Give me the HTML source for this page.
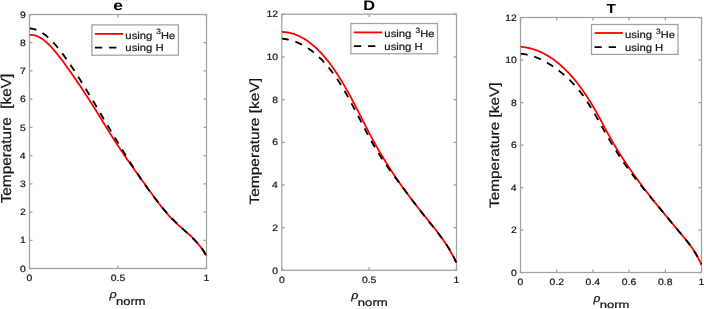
<!DOCTYPE html>
<html><head><meta charset="utf-8"><style>
html,body{margin:0;padding:0;background:#fff;}
svg{display:block;font-family:"Liberation Sans", sans-serif;}
</style></head><body>
<svg width="704" height="309" viewBox="0 0 704 309">
<rect width="704" height="309" fill="#fff"/>
<rect x="29.5" y="14.5" width="177.00" height="254.00" fill="none" stroke="#a0a0a0" stroke-width="1.25"/>
<path d="M29.5,268.50h3.0 M206.5,268.50h-3.0" stroke="#a0a0a0" stroke-width="1.25"/>
<path d="M29.5,240.28h3.0 M206.5,240.28h-3.0" stroke="#a0a0a0" stroke-width="1.25"/>
<path d="M29.5,212.06h3.0 M206.5,212.06h-3.0" stroke="#a0a0a0" stroke-width="1.25"/>
<path d="M29.5,183.83h3.0 M206.5,183.83h-3.0" stroke="#a0a0a0" stroke-width="1.25"/>
<path d="M29.5,155.61h3.0 M206.5,155.61h-3.0" stroke="#a0a0a0" stroke-width="1.25"/>
<path d="M29.5,127.39h3.0 M206.5,127.39h-3.0" stroke="#a0a0a0" stroke-width="1.25"/>
<path d="M29.5,99.17h3.0 M206.5,99.17h-3.0" stroke="#a0a0a0" stroke-width="1.25"/>
<path d="M29.5,70.94h3.0 M206.5,70.94h-3.0" stroke="#a0a0a0" stroke-width="1.25"/>
<path d="M29.5,42.72h3.0 M206.5,42.72h-3.0" stroke="#a0a0a0" stroke-width="1.25"/>
<path d="M29.5,14.50h3.0 M206.5,14.50h-3.0" stroke="#a0a0a0" stroke-width="1.25"/>
<path d="M29.50,268.5v-3.0 M29.50,14.5v3.0" stroke="#a0a0a0" stroke-width="1.25"/>
<path d="M118.00,268.5v-3.0 M118.00,14.5v3.0" stroke="#a0a0a0" stroke-width="1.25"/>
<path d="M206.50,268.5v-3.0 M206.50,14.5v3.0" stroke="#a0a0a0" stroke-width="1.25"/>
<path d="M29.80,34.97 L30.54,34.92 L31.28,34.91 L32.01,34.95 L32.75,35.02 L33.49,35.13 L34.23,35.27 L34.97,35.45 L35.70,35.67 L36.44,35.92 L37.18,36.20 L37.92,36.52 L38.66,36.87 L39.39,37.25 L40.13,37.66 L40.87,38.10 L41.61,38.57 L42.35,39.07 L43.09,39.60 L43.82,40.15 L44.56,40.73 L45.30,41.34 L46.04,41.97 L46.78,42.62 L47.51,43.30 L48.25,44.00 L48.99,44.72 L49.73,45.46 L50.47,46.23 L51.20,47.01 L51.94,47.81 L52.68,48.63 L53.42,49.46 L54.16,50.32 L54.89,51.19 L55.63,52.07 L56.37,52.97 L57.11,53.88 L57.85,54.81 L58.58,55.74 L59.32,56.69 L60.06,57.65 L60.80,58.62 L61.54,59.60 L62.28,60.58 L63.01,61.58 L63.75,62.58 L64.49,63.59 L65.23,64.60 L65.97,65.62 L66.70,66.64 L67.44,67.66 L68.18,68.69 L68.92,69.73 L69.66,70.76 L70.39,71.81 L71.13,72.85 L71.87,73.90 L72.61,74.96 L73.35,76.01 L74.08,77.08 L74.82,78.14 L75.56,79.21 L76.30,80.29 L77.04,81.37 L77.77,82.45 L78.51,83.54 L79.25,84.64 L79.99,85.73 L80.73,86.84 L81.47,87.94 L82.20,89.05 L82.94,90.17 L83.68,91.28 L84.42,92.41 L85.16,93.54 L85.89,94.67 L86.63,95.80 L87.37,96.94 L88.11,98.09 L88.85,99.24 L89.58,100.39 L90.32,101.55 L91.06,102.71 L91.80,103.88 L92.54,105.05 L93.27,106.22 L94.01,107.40 L94.75,108.58 L95.49,109.77 L96.23,110.96 L96.96,112.15 L97.70,113.34 L98.44,114.54 L99.18,115.74 L99.92,116.94 L100.66,118.14 L101.39,119.34 L102.13,120.54 L102.87,121.75 L103.61,122.95 L104.35,124.15 L105.08,125.35 L105.82,126.55 L106.56,127.74 L107.30,128.93 L108.04,130.12 L108.77,131.31 L109.51,132.49 L110.25,133.67 L110.99,134.85 L111.73,136.02 L112.46,137.18 L113.20,138.34 L113.94,139.50 L114.68,140.65 L115.42,141.79 L116.15,142.93 L116.89,144.06 L117.63,145.18 L118.37,146.31 L119.11,147.42 L119.85,148.53 L120.58,149.64 L121.32,150.74 L122.06,151.84 L122.80,152.93 L123.54,154.02 L124.27,155.11 L125.01,156.19 L125.75,157.26 L126.49,158.34 L127.23,159.41 L127.96,160.47 L128.70,161.54 L129.44,162.60 L130.18,163.65 L130.92,164.71 L131.65,165.76 L132.39,166.81 L133.13,167.85 L133.87,168.90 L134.61,169.94 L135.34,170.98 L136.08,172.02 L136.82,173.05 L137.56,174.09 L138.30,175.12 L139.04,176.15 L139.77,177.18 L140.51,178.21 L141.25,179.24 L141.99,180.26 L142.73,181.29 L143.46,182.31 L144.20,183.34 L144.94,184.36 L145.68,185.39 L146.42,186.41 L147.15,187.44 L147.89,188.46 L148.63,189.49 L149.37,190.51 L150.11,191.53 L150.84,192.55 L151.58,193.56 L152.32,194.58 L153.06,195.59 L153.80,196.59 L154.53,197.59 L155.27,198.59 L156.01,199.58 L156.75,200.57 L157.49,201.55 L158.23,202.52 L158.96,203.49 L159.70,204.45 L160.44,205.40 L161.18,206.34 L161.92,207.28 L162.65,208.20 L163.39,209.12 L164.13,210.02 L164.87,210.92 L165.61,211.80 L166.34,212.67 L167.08,213.53 L167.82,214.38 L168.56,215.22 L169.30,216.04 L170.03,216.85 L170.77,217.64 L171.51,218.42 L172.25,219.19 L172.99,219.94 L173.72,220.67 L174.46,221.40 L175.20,222.10 L175.94,222.80 L176.68,223.48 L177.42,224.16 L178.15,224.82 L178.89,225.48 L179.63,226.14 L180.37,226.78 L181.11,227.43 L181.84,228.07 L182.58,228.71 L183.32,229.35 L184.06,229.99 L184.80,230.63 L185.53,231.28 L186.27,231.93 L187.01,232.58 L187.75,233.24 L188.49,233.91 L189.22,234.59 L189.96,235.28 L190.70,235.98 L191.44,236.69 L192.18,237.41 L192.91,238.15 L193.65,238.91 L194.39,239.68 L195.13,240.47 L195.87,241.28 L196.61,242.11 L197.34,242.96 L198.08,243.84 L198.82,244.74 L199.56,245.66 L200.30,246.61 L201.03,247.60 L201.77,248.61 L202.51,249.66 L203.25,250.74 L203.99,251.85 L204.72,253.00 L205.46,254.19 L206.20,255.42" fill="none" stroke="#ff0000" stroke-width="1.8"/>
<path d="M29.80,28.46 L30.54,28.49 L31.28,28.56 L32.01,28.66 L32.75,28.78 L33.49,28.94 L34.23,29.12 L34.97,29.33 L35.70,29.57 L36.44,29.84 L37.18,30.13 L37.92,30.46 L38.66,30.80 L39.39,31.18 L40.13,31.58 L40.87,32.00 L41.61,32.45 L42.35,32.92 L43.09,33.42 L43.82,33.94 L44.56,34.48 L45.30,35.05 L46.04,35.64 L46.78,36.25 L47.51,36.88 L48.25,37.53 L48.99,38.20 L49.73,38.90 L50.47,39.61 L51.20,40.34 L51.94,41.09 L52.68,41.86 L53.42,42.65 L54.16,43.45 L54.89,44.27 L55.63,45.11 L56.37,45.97 L57.11,46.84 L57.85,47.73 L58.58,48.63 L59.32,49.55 L60.06,50.48 L60.80,51.42 L61.54,52.38 L62.28,53.36 L63.01,54.34 L63.75,55.34 L64.49,56.35 L65.23,57.37 L65.97,58.40 L66.70,59.44 L67.44,60.49 L68.18,61.56 L68.92,62.63 L69.66,63.71 L70.39,64.80 L71.13,65.90 L71.87,67.00 L72.61,68.12 L73.35,69.24 L74.08,70.36 L74.82,71.50 L75.56,72.63 L76.30,73.78 L77.04,74.93 L77.77,76.08 L78.51,77.24 L79.25,78.41 L79.99,79.58 L80.73,80.75 L81.47,81.93 L82.20,83.11 L82.94,84.30 L83.68,85.49 L84.42,86.69 L85.16,87.89 L85.89,89.09 L86.63,90.30 L87.37,91.51 L88.11,92.72 L88.85,93.94 L89.58,95.16 L90.32,96.38 L91.06,97.61 L91.80,98.83 L92.54,100.06 L93.27,101.29 L94.01,102.53 L94.75,103.76 L95.49,105.00 L96.23,106.24 L96.96,107.48 L97.70,108.72 L98.44,109.96 L99.18,111.20 L99.92,112.45 L100.66,113.69 L101.39,114.94 L102.13,116.18 L102.87,117.43 L103.61,118.68 L104.35,119.92 L105.08,121.17 L105.82,122.41 L106.56,123.66 L107.30,124.90 L108.04,126.14 L108.77,127.38 L109.51,128.63 L110.25,129.86 L110.99,131.10 L111.73,132.34 L112.46,133.57 L113.20,134.81 L113.94,136.04 L114.68,137.27 L115.42,138.49 L116.15,139.72 L116.89,140.94 L117.63,142.15 L118.37,143.37 L119.11,144.58 L119.85,145.79 L120.58,147.00 L121.32,148.21 L122.06,149.41 L122.80,150.60 L123.54,151.80 L124.27,152.99 L125.01,154.18 L125.75,155.36 L126.49,156.54 L127.23,157.72 L127.96,158.89 L128.70,160.06 L129.44,161.22 L130.18,162.38 L130.92,163.54 L131.65,164.69 L132.39,165.84 L133.13,166.98 L133.87,168.12 L134.61,169.25 L135.34,170.38 L136.08,171.50 L136.82,172.62 L137.56,173.73 L138.30,174.84 L139.04,175.95 L139.77,177.04 L140.51,178.14 L141.25,179.22 L141.99,180.30 L142.73,181.38 L143.46,182.45 L144.20,183.51 L144.94,184.57 L145.68,185.62 L146.42,186.67 L147.15,187.71 L147.89,188.74 L148.63,189.77 L149.37,190.79 L150.11,191.80 L150.84,192.81 L151.58,193.81 L152.32,194.80 L153.06,195.79 L153.80,196.76 L154.53,197.74 L155.27,198.70 L156.01,199.66 L156.75,200.61 L157.49,201.55 L158.23,202.48 L158.96,203.41 L159.70,204.33 L160.44,205.24 L161.18,206.15 L161.92,207.04 L162.65,207.93 L163.39,208.81 L164.13,209.68 L164.87,210.54 L165.61,211.39 L166.34,212.24 L167.08,213.07 L167.82,213.90 L168.56,214.72 L169.30,215.53 L170.03,216.33 L170.77,217.12 L171.51,217.90 L172.25,218.67 L172.99,219.44 L173.72,220.19 L174.46,220.94 L175.20,221.67 L175.94,222.40 L176.68,223.13 L177.42,223.84 L178.15,224.55 L178.89,225.26 L179.63,225.96 L180.37,226.65 L181.11,227.34 L181.84,228.03 L182.58,228.72 L183.32,229.40 L184.06,230.09 L184.80,230.77 L185.53,231.45 L186.27,232.14 L187.01,232.82 L187.75,233.51 L188.49,234.20 L189.22,234.89 L189.96,235.58 L190.70,236.28 L191.44,236.98 L192.18,237.69 L192.91,238.41 L193.65,239.13 L194.39,239.85 L195.13,240.59 L195.87,241.33 L196.61,242.08 L197.34,242.85 L198.08,243.63 L198.82,244.43 L199.56,245.28 L200.30,246.16 L201.03,247.10 L201.77,248.10 L202.51,249.17 L203.25,250.32 L203.99,251.55 L204.72,252.87 L205.46,254.29 L206.20,255.83" fill="none" stroke="#000" stroke-width="1.8" stroke-dasharray="7.287 6.888" stroke-dashoffset="0.5"/>
<rect x="91.9" y="24.9" width="86.50" height="30.30" fill="#fff" stroke="#a0a0a0" stroke-width="1.25"/>
<path d="M94.90,33.90H123.20" stroke="#ff0000" stroke-width="1.8"/>
<path d="M94.90,47.65H123.20" stroke="#000" stroke-width="1.8" stroke-dasharray="7.3 6.9"/>
<rect x="281.8" y="14.2" width="174.70" height="256.10" fill="none" stroke="#a0a0a0" stroke-width="1.25"/>
<path d="M281.8,270.30h3.0 M456.5,270.30h-3.0" stroke="#a0a0a0" stroke-width="1.25"/>
<path d="M281.8,227.62h3.0 M456.5,227.62h-3.0" stroke="#a0a0a0" stroke-width="1.25"/>
<path d="M281.8,184.93h3.0 M456.5,184.93h-3.0" stroke="#a0a0a0" stroke-width="1.25"/>
<path d="M281.8,142.25h3.0 M456.5,142.25h-3.0" stroke="#a0a0a0" stroke-width="1.25"/>
<path d="M281.8,99.57h3.0 M456.5,99.57h-3.0" stroke="#a0a0a0" stroke-width="1.25"/>
<path d="M281.8,56.88h3.0 M456.5,56.88h-3.0" stroke="#a0a0a0" stroke-width="1.25"/>
<path d="M281.8,14.20h3.0 M456.5,14.20h-3.0" stroke="#a0a0a0" stroke-width="1.25"/>
<path d="M281.80,270.3v-3.0 M281.80,14.2v3.0" stroke="#a0a0a0" stroke-width="1.25"/>
<path d="M369.15,270.3v-3.0 M369.15,14.2v3.0" stroke="#a0a0a0" stroke-width="1.25"/>
<path d="M456.50,270.3v-3.0 M456.50,14.2v3.0" stroke="#a0a0a0" stroke-width="1.25"/>
<path d="M282.10,31.92 L282.83,31.94 L283.56,31.98 L284.29,32.03 L285.01,32.10 L285.74,32.18 L286.47,32.27 L287.20,32.38 L287.93,32.50 L288.66,32.64 L289.38,32.79 L290.11,32.95 L290.84,33.12 L291.57,33.31 L292.30,33.52 L293.03,33.74 L293.76,33.97 L294.48,34.21 L295.21,34.47 L295.94,34.75 L296.67,35.04 L297.40,35.34 L298.13,35.65 L298.85,35.99 L299.58,36.33 L300.31,36.69 L301.04,37.06 L301.77,37.45 L302.50,37.85 L303.23,38.27 L303.95,38.70 L304.68,39.14 L305.41,39.60 L306.14,40.07 L306.87,40.56 L307.60,41.06 L308.32,41.58 L309.05,42.11 L309.78,42.66 L310.51,43.22 L311.24,43.79 L311.97,44.38 L312.69,44.99 L313.42,45.61 L314.15,46.24 L314.88,46.89 L315.61,47.55 L316.34,48.23 L317.07,48.93 L317.79,49.64 L318.52,50.36 L319.25,51.10 L319.98,51.85 L320.71,52.62 L321.44,53.40 L322.16,54.20 L322.89,55.01 L323.62,55.84 L324.35,56.68 L325.08,57.54 L325.81,58.42 L326.54,59.31 L327.26,60.21 L327.99,61.13 L328.72,62.06 L329.45,63.01 L330.18,63.98 L330.91,64.96 L331.63,65.96 L332.36,66.97 L333.09,67.99 L333.82,69.04 L334.55,70.09 L335.28,71.16 L336.01,72.25 L336.73,73.34 L337.46,74.46 L338.19,75.58 L338.92,76.73 L339.65,77.88 L340.38,79.05 L341.10,80.23 L341.83,81.43 L342.56,82.64 L343.29,83.86 L344.02,85.09 L344.75,86.34 L345.48,87.60 L346.20,88.87 L346.93,90.16 L347.66,91.46 L348.39,92.77 L349.12,94.09 L349.85,95.43 L350.57,96.77 L351.30,98.13 L352.03,99.50 L352.76,100.88 L353.49,102.27 L354.22,103.67 L354.95,105.08 L355.67,106.49 L356.40,107.91 L357.13,109.34 L357.86,110.77 L358.59,112.20 L359.32,113.64 L360.04,115.08 L360.77,116.52 L361.50,117.96 L362.23,119.40 L362.96,120.84 L363.69,122.28 L364.42,123.71 L365.14,125.14 L365.87,126.56 L366.60,127.98 L367.33,129.39 L368.06,130.80 L368.79,132.19 L369.51,133.58 L370.24,134.95 L370.97,136.32 L371.70,137.67 L372.43,139.01 L373.16,140.35 L373.88,141.67 L374.61,142.99 L375.34,144.29 L376.07,145.59 L376.80,146.87 L377.53,148.15 L378.26,149.42 L378.98,150.68 L379.71,151.92 L380.44,153.16 L381.17,154.40 L381.90,155.62 L382.63,156.83 L383.35,158.04 L384.08,159.23 L384.81,160.42 L385.54,161.60 L386.27,162.77 L387.00,163.94 L387.73,165.09 L388.45,166.24 L389.18,167.38 L389.91,168.52 L390.64,169.64 L391.37,170.76 L392.10,171.87 L392.82,172.98 L393.55,174.08 L394.28,175.17 L395.01,176.25 L395.74,177.33 L396.47,178.40 L397.20,179.46 L397.92,180.52 L398.65,181.57 L399.38,182.62 L400.11,183.66 L400.84,184.69 L401.57,185.72 L402.29,186.75 L403.02,187.76 L403.75,188.77 L404.48,189.78 L405.21,190.78 L405.94,191.78 L406.67,192.77 L407.39,193.76 L408.12,194.74 L408.85,195.72 L409.58,196.69 L410.31,197.66 L411.04,198.62 L411.76,199.58 L412.49,200.54 L413.22,201.49 L413.95,202.43 L414.68,203.38 L415.41,204.32 L416.14,205.26 L416.86,206.19 L417.59,207.12 L418.32,208.05 L419.05,208.97 L419.78,209.89 L420.51,210.81 L421.23,211.72 L421.96,212.64 L422.69,213.55 L423.42,214.45 L424.15,215.36 L424.88,216.26 L425.61,217.16 L426.33,218.06 L427.06,218.96 L427.79,219.86 L428.52,220.76 L429.25,221.66 L429.98,222.56 L430.70,223.46 L431.43,224.36 L432.16,225.27 L432.89,226.19 L433.62,227.11 L434.35,228.03 L435.07,228.96 L435.80,229.90 L436.53,230.84 L437.26,231.80 L437.99,232.76 L438.72,233.73 L439.45,234.72 L440.17,235.71 L440.90,236.72 L441.63,237.73 L442.36,238.77 L443.09,239.81 L443.82,240.87 L444.54,241.95 L445.27,243.04 L446.00,244.15 L446.73,245.27 L447.46,246.41 L448.19,247.58 L448.92,248.76 L449.64,249.97 L450.37,251.20 L451.10,252.45 L451.83,253.73 L452.56,255.04 L453.29,256.37 L454.01,257.74 L454.74,259.14 L455.47,260.56 L456.20,262.02" fill="none" stroke="#ff0000" stroke-width="1.8"/>
<path d="M282.10,38.61 L282.83,38.69 L283.56,38.78 L284.29,38.88 L285.01,38.99 L285.74,39.11 L286.47,39.24 L287.20,39.38 L287.93,39.53 L288.66,39.70 L289.38,39.87 L290.11,40.05 L290.84,40.25 L291.57,40.45 L292.30,40.67 L293.03,40.90 L293.76,41.14 L294.48,41.39 L295.21,41.65 L295.94,41.92 L296.67,42.21 L297.40,42.51 L298.13,42.82 L298.85,43.14 L299.58,43.47 L300.31,43.81 L301.04,44.17 L301.77,44.54 L302.50,44.92 L303.23,45.32 L303.95,45.73 L304.68,46.14 L305.41,46.58 L306.14,47.02 L306.87,47.48 L307.60,47.95 L308.32,48.43 L309.05,48.93 L309.78,49.44 L310.51,49.97 L311.24,50.50 L311.97,51.05 L312.69,51.62 L313.42,52.20 L314.15,52.79 L314.88,53.39 L315.61,54.01 L316.34,54.65 L317.07,55.29 L317.79,55.96 L318.52,56.63 L319.25,57.32 L319.98,58.03 L320.71,58.75 L321.44,59.48 L322.16,60.23 L322.89,61.00 L323.62,61.78 L324.35,62.57 L325.08,63.38 L325.81,64.20 L326.54,65.04 L327.26,65.90 L327.99,66.77 L328.72,67.65 L329.45,68.55 L330.18,69.47 L330.91,70.40 L331.63,71.35 L332.36,72.32 L333.09,73.30 L333.82,74.30 L334.55,75.31 L335.28,76.34 L336.01,77.39 L336.73,78.45 L337.46,79.53 L338.19,80.62 L338.92,81.74 L339.65,82.87 L340.38,84.01 L341.10,85.18 L341.83,86.36 L342.56,87.56 L343.29,88.77 L344.02,90.00 L344.75,91.24 L345.48,92.50 L346.20,93.77 L346.93,95.06 L347.66,96.35 L348.39,97.66 L349.12,98.98 L349.85,100.31 L350.57,101.65 L351.30,103.00 L352.03,104.35 L352.76,105.72 L353.49,107.09 L354.22,108.47 L354.95,109.86 L355.67,111.25 L356.40,112.64 L357.13,114.04 L357.86,115.45 L358.59,116.85 L359.32,118.26 L360.04,119.67 L360.77,121.08 L361.50,122.49 L362.23,123.90 L362.96,125.31 L363.69,126.71 L364.42,128.11 L365.14,129.51 L365.87,130.90 L366.60,132.28 L367.33,133.65 L368.06,135.02 L368.79,136.38 L369.51,137.73 L370.24,139.07 L370.97,140.39 L371.70,141.71 L372.43,143.01 L373.16,144.29 L373.88,145.56 L374.61,146.82 L375.34,148.06 L376.07,149.28 L376.80,150.49 L377.53,151.69 L378.26,152.87 L378.98,154.04 L379.71,155.19 L380.44,156.33 L381.17,157.46 L381.90,158.58 L382.63,159.68 L383.35,160.78 L384.08,161.86 L384.81,162.94 L385.54,164.00 L386.27,165.06 L387.00,166.11 L387.73,167.15 L388.45,168.18 L389.18,169.20 L389.91,170.22 L390.64,171.23 L391.37,172.24 L392.10,173.24 L392.82,174.23 L393.55,175.22 L394.28,176.21 L395.01,177.19 L395.74,178.17 L396.47,179.14 L397.20,180.12 L397.92,181.09 L398.65,182.06 L399.38,183.03 L400.11,183.99 L400.84,184.96 L401.57,185.93 L402.29,186.90 L403.02,187.87 L403.75,188.84 L404.48,189.81 L405.21,190.78 L405.94,191.75 L406.67,192.72 L407.39,193.69 L408.12,194.66 L408.85,195.63 L409.58,196.60 L410.31,197.57 L411.04,198.54 L411.76,199.51 L412.49,200.47 L413.22,201.44 L413.95,202.40 L414.68,203.36 L415.41,204.32 L416.14,205.28 L416.86,206.24 L417.59,207.19 L418.32,208.14 L419.05,209.09 L419.78,210.04 L420.51,210.99 L421.23,211.93 L421.96,212.87 L422.69,213.81 L423.42,214.74 L424.15,215.67 L424.88,216.60 L425.61,217.52 L426.33,218.44 L427.06,219.36 L427.79,220.27 L428.52,221.18 L429.25,222.08 L429.98,222.99 L430.70,223.89 L431.43,224.79 L432.16,225.69 L432.89,226.59 L433.62,227.50 L434.35,228.40 L435.07,229.31 L435.80,230.23 L436.53,231.15 L437.26,232.07 L437.99,233.00 L438.72,233.94 L439.45,234.89 L440.17,235.84 L440.90,236.81 L441.63,237.78 L442.36,238.77 L443.09,239.76 L443.82,240.78 L444.54,241.80 L445.27,242.84 L446.00,243.89 L446.73,244.97 L447.46,246.06 L448.19,247.18 L448.92,248.33 L449.64,249.52 L450.37,250.76 L451.10,252.04 L451.83,253.37 L452.56,254.76 L453.29,256.22 L454.01,257.74 L454.74,259.34 L455.47,261.02 L456.20,262.78" fill="none" stroke="#000" stroke-width="1.8" stroke-dasharray="7.290 6.890" stroke-dashoffset="0.5"/>
<rect x="350.9" y="23.5" width="86.60" height="30.30" fill="#fff" stroke="#a0a0a0" stroke-width="1.25"/>
<path d="M353.90,32.40H382.20" stroke="#ff0000" stroke-width="1.8"/>
<path d="M353.90,46.20H382.20" stroke="#000" stroke-width="1.8" stroke-dasharray="7.3 6.9"/>
<rect x="520.5" y="17.5" width="181.00" height="255.00" fill="none" stroke="#a0a0a0" stroke-width="1.25"/>
<path d="M520.5,272.50h3.0 M701.5,272.50h-3.0" stroke="#a0a0a0" stroke-width="1.25"/>
<path d="M520.5,230.00h3.0 M701.5,230.00h-3.0" stroke="#a0a0a0" stroke-width="1.25"/>
<path d="M520.5,187.50h3.0 M701.5,187.50h-3.0" stroke="#a0a0a0" stroke-width="1.25"/>
<path d="M520.5,145.00h3.0 M701.5,145.00h-3.0" stroke="#a0a0a0" stroke-width="1.25"/>
<path d="M520.5,102.50h3.0 M701.5,102.50h-3.0" stroke="#a0a0a0" stroke-width="1.25"/>
<path d="M520.5,60.00h3.0 M701.5,60.00h-3.0" stroke="#a0a0a0" stroke-width="1.25"/>
<path d="M520.5,17.50h3.0 M701.5,17.50h-3.0" stroke="#a0a0a0" stroke-width="1.25"/>
<path d="M520.50,272.5v-3.0 M520.50,17.5v3.0" stroke="#a0a0a0" stroke-width="1.25"/>
<path d="M556.70,272.5v-3.0 M556.70,17.5v3.0" stroke="#a0a0a0" stroke-width="1.25"/>
<path d="M592.90,272.5v-3.0 M592.90,17.5v3.0" stroke="#a0a0a0" stroke-width="1.25"/>
<path d="M629.10,272.5v-3.0 M629.10,17.5v3.0" stroke="#a0a0a0" stroke-width="1.25"/>
<path d="M665.30,272.5v-3.0 M665.30,17.5v3.0" stroke="#a0a0a0" stroke-width="1.25"/>
<path d="M701.50,272.5v-3.0 M701.50,17.5v3.0" stroke="#a0a0a0" stroke-width="1.25"/>
<path d="M520.80,46.77 L521.55,46.84 L522.31,46.93 L523.06,47.02 L523.82,47.12 L524.57,47.23 L525.33,47.35 L526.08,47.48 L526.84,47.62 L527.59,47.77 L528.35,47.93 L529.10,48.10 L529.86,48.28 L530.61,48.48 L531.37,48.68 L532.12,48.89 L532.88,49.11 L533.63,49.35 L534.39,49.59 L535.14,49.85 L535.90,50.11 L536.65,50.39 L537.41,50.68 L538.16,50.98 L538.92,51.28 L539.67,51.61 L540.43,51.94 L541.18,52.28 L541.93,52.63 L542.69,53.00 L543.44,53.38 L544.20,53.77 L544.95,54.17 L545.71,54.58 L546.46,55.00 L547.22,55.44 L547.97,55.88 L548.73,56.34 L549.48,56.81 L550.24,57.30 L550.99,57.79 L551.75,58.30 L552.50,58.82 L553.26,59.35 L554.01,59.89 L554.77,60.45 L555.52,61.02 L556.28,61.60 L557.03,62.20 L557.79,62.80 L558.54,63.42 L559.30,64.05 L560.05,64.70 L560.81,65.36 L561.56,66.03 L562.31,66.71 L563.07,67.41 L563.82,68.12 L564.58,68.84 L565.33,69.58 L566.09,70.33 L566.84,71.09 L567.60,71.87 L568.35,72.66 L569.11,73.47 L569.86,74.29 L570.62,75.12 L571.37,75.96 L572.13,76.82 L572.88,77.70 L573.64,78.58 L574.39,79.49 L575.15,80.40 L575.90,81.33 L576.66,82.28 L577.41,83.24 L578.17,84.21 L578.92,85.20 L579.68,86.20 L580.43,87.21 L581.18,88.25 L581.94,89.29 L582.69,90.35 L583.45,91.43 L584.20,92.52 L584.96,93.62 L585.71,94.74 L586.47,95.87 L587.22,97.02 L587.98,98.19 L588.73,99.37 L589.49,100.56 L590.24,101.77 L591.00,103.00 L591.75,104.24 L592.51,105.49 L593.26,106.76 L594.02,108.05 L594.77,109.35 L595.53,110.67 L596.28,112.01 L597.04,113.35 L597.79,114.72 L598.55,116.10 L599.30,117.49 L600.06,118.88 L600.81,120.29 L601.56,121.70 L602.32,123.12 L603.07,124.54 L603.83,125.96 L604.58,127.38 L605.34,128.79 L606.09,130.20 L606.85,131.60 L607.60,133.00 L608.36,134.38 L609.11,135.75 L609.87,137.11 L610.62,138.45 L611.38,139.78 L612.13,141.09 L612.89,142.39 L613.64,143.68 L614.40,144.95 L615.15,146.21 L615.91,147.46 L616.66,148.70 L617.42,149.93 L618.17,151.15 L618.93,152.36 L619.68,153.56 L620.44,154.75 L621.19,155.93 L621.94,157.11 L622.70,158.27 L623.45,159.43 L624.21,160.58 L624.96,161.73 L625.72,162.86 L626.47,163.99 L627.23,165.11 L627.98,166.23 L628.74,167.33 L629.49,168.44 L630.25,169.53 L631.00,170.62 L631.76,171.70 L632.51,172.77 L633.27,173.84 L634.02,174.90 L634.78,175.96 L635.53,177.01 L636.29,178.05 L637.04,179.09 L637.80,180.13 L638.55,181.15 L639.31,182.18 L640.06,183.19 L640.82,184.21 L641.57,185.21 L642.32,186.22 L643.08,187.21 L643.83,188.21 L644.59,189.20 L645.34,190.18 L646.10,191.16 L646.85,192.13 L647.61,193.11 L648.36,194.07 L649.12,195.04 L649.87,196.00 L650.63,196.95 L651.38,197.91 L652.14,198.86 L652.89,199.80 L653.65,200.75 L654.40,201.69 L655.16,202.62 L655.91,203.56 L656.67,204.49 L657.42,205.42 L658.18,206.34 L658.93,207.27 L659.69,208.19 L660.44,209.11 L661.19,210.03 L661.95,210.94 L662.70,211.86 L663.46,212.77 L664.21,213.68 L664.97,214.59 L665.72,215.50 L666.48,216.41 L667.23,217.32 L667.99,218.22 L668.74,219.12 L669.50,220.03 L670.25,220.93 L671.01,221.83 L671.76,222.74 L672.52,223.64 L673.27,224.54 L674.03,225.44 L674.78,226.34 L675.54,227.25 L676.29,228.15 L677.05,229.05 L677.80,229.96 L678.56,230.86 L679.31,231.77 L680.07,232.67 L680.82,233.58 L681.57,234.49 L682.33,235.41 L683.08,236.32 L683.84,237.24 L684.59,238.16 L685.35,239.09 L686.10,240.03 L686.86,240.98 L687.61,241.94 L688.37,242.91 L689.12,243.90 L689.88,244.90 L690.63,245.93 L691.39,246.99 L692.14,248.07 L692.90,249.18 L693.65,250.33 L694.41,251.51 L695.16,252.73 L695.92,254.00 L696.67,255.31 L697.43,256.68 L698.18,258.09 L698.94,259.57 L699.69,261.10 L700.45,262.69 L701.20,264.35" fill="none" stroke="#ff0000" stroke-width="1.8"/>
<path d="M520.80,53.75 L521.55,53.81 L522.31,53.89 L523.06,53.97 L523.82,54.07 L524.57,54.19 L525.33,54.31 L526.08,54.44 L526.84,54.59 L527.59,54.75 L528.35,54.92 L529.10,55.11 L529.86,55.30 L530.61,55.51 L531.37,55.72 L532.12,55.95 L532.88,56.19 L533.63,56.44 L534.39,56.71 L535.14,56.98 L535.90,57.26 L536.65,57.56 L537.41,57.87 L538.16,58.18 L538.92,58.51 L539.67,58.85 L540.43,59.19 L541.18,59.55 L541.93,59.92 L542.69,60.30 L543.44,60.69 L544.20,61.09 L544.95,61.50 L545.71,61.91 L546.46,62.34 L547.22,62.78 L547.97,63.23 L548.73,63.68 L549.48,64.15 L550.24,64.62 L550.99,65.11 L551.75,65.60 L552.50,66.10 L553.26,66.61 L554.01,67.13 L554.77,67.66 L555.52,68.20 L556.28,68.75 L557.03,69.30 L557.79,69.86 L558.54,70.43 L559.30,71.01 L560.05,71.60 L560.81,72.20 L561.56,72.80 L562.31,73.42 L563.07,74.04 L563.82,74.68 L564.58,75.33 L565.33,75.99 L566.09,76.66 L566.84,77.34 L567.60,78.03 L568.35,78.74 L569.11,79.46 L569.86,80.19 L570.62,80.94 L571.37,81.70 L572.13,82.48 L572.88,83.27 L573.64,84.08 L574.39,84.90 L575.15,85.74 L575.90,86.60 L576.66,87.47 L577.41,88.37 L578.17,89.28 L578.92,90.21 L579.68,91.15 L580.43,92.12 L581.18,93.11 L581.94,94.11 L582.69,95.14 L583.45,96.19 L584.20,97.25 L584.96,98.34 L585.71,99.45 L586.47,100.58 L587.22,101.73 L587.98,102.89 L588.73,104.07 L589.49,105.27 L590.24,106.48 L591.00,107.71 L591.75,108.96 L592.51,110.22 L593.26,111.49 L594.02,112.77 L594.77,114.07 L595.53,115.38 L596.28,116.69 L597.04,118.02 L597.79,119.35 L598.55,120.69 L599.30,122.04 L600.06,123.38 L600.81,124.73 L601.56,126.08 L602.32,127.43 L603.07,128.77 L603.83,130.11 L604.58,131.45 L605.34,132.78 L606.09,134.11 L606.85,135.42 L607.60,136.73 L608.36,138.03 L609.11,139.32 L609.87,140.61 L610.62,141.89 L611.38,143.15 L612.13,144.41 L612.89,145.66 L613.64,146.90 L614.40,148.14 L615.15,149.36 L615.91,150.57 L616.66,151.78 L617.42,152.97 L618.17,154.16 L618.93,155.33 L619.68,156.50 L620.44,157.65 L621.19,158.79 L621.94,159.93 L622.70,161.05 L623.45,162.16 L624.21,163.26 L624.96,164.35 L625.72,165.43 L626.47,166.49 L627.23,167.55 L627.98,168.60 L628.74,169.64 L629.49,170.67 L630.25,171.70 L631.00,172.71 L631.76,173.72 L632.51,174.71 L633.27,175.71 L634.02,176.69 L634.78,177.67 L635.53,178.64 L636.29,179.60 L637.04,180.56 L637.80,181.51 L638.55,182.46 L639.31,183.40 L640.06,184.34 L640.82,185.28 L641.57,186.21 L642.32,187.13 L643.08,188.06 L643.83,188.97 L644.59,189.89 L645.34,190.81 L646.10,191.72 L646.85,192.63 L647.61,193.54 L648.36,194.44 L649.12,195.35 L649.87,196.25 L650.63,197.16 L651.38,198.06 L652.14,198.97 L652.89,199.87 L653.65,200.78 L654.40,201.69 L655.16,202.60 L655.91,203.51 L656.67,204.42 L657.42,205.33 L658.18,206.25 L658.93,207.17 L659.69,208.09 L660.44,209.01 L661.19,209.93 L661.95,210.86 L662.70,211.78 L663.46,212.71 L664.21,213.63 L664.97,214.56 L665.72,215.48 L666.48,216.41 L667.23,217.33 L667.99,218.26 L668.74,219.18 L669.50,220.10 L670.25,221.02 L671.01,221.94 L671.76,222.86 L672.52,223.77 L673.27,224.69 L674.03,225.60 L674.78,226.51 L675.54,227.41 L676.29,228.32 L677.05,229.22 L677.80,230.11 L678.56,231.01 L679.31,231.90 L680.07,232.79 L680.82,233.68 L681.57,234.58 L682.33,235.47 L683.08,236.37 L683.84,237.27 L684.59,238.18 L685.35,239.09 L686.10,240.01 L686.86,240.94 L687.61,241.89 L688.37,242.86 L689.12,243.84 L689.88,244.84 L690.63,245.87 L691.39,246.92 L692.14,248.00 L692.90,249.12 L693.65,250.27 L694.41,251.46 L695.16,252.69 L695.92,253.96 L696.67,255.28 L697.43,256.65 L698.18,258.08 L698.94,259.56 L699.69,261.10 L700.45,262.70 L701.20,264.36" fill="none" stroke="#000" stroke-width="1.8" stroke-dasharray="7.272 6.873" stroke-dashoffset="0.4"/>
<rect x="591.5" y="24.5" width="86.50" height="29.90" fill="#fff" stroke="#a0a0a0" stroke-width="1.25"/>
<path d="M594.50,33.00H622.80" stroke="#ff0000" stroke-width="1.8"/>
<path d="M594.50,47.10H622.80" stroke="#000" stroke-width="1.8" stroke-dasharray="7.3 6.9"/>
<g fill="#141414" style="filter:grayscale(1)" text-rendering="geometricPrecision" stroke="#141414" stroke-width="0.22">
<text x="19.92" y="271.70" font-size="9.2" textLength="5.78" lengthAdjust="spacingAndGlyphs">0</text>
<text x="20.02" y="243.48" font-size="9.2" textLength="5.78" lengthAdjust="spacingAndGlyphs">1</text>
<text x="20.05" y="215.26" font-size="9.2" textLength="5.78" lengthAdjust="spacingAndGlyphs">2</text>
<text x="19.97" y="187.03" font-size="9.2" textLength="5.78" lengthAdjust="spacingAndGlyphs">3</text>
<text x="19.82" y="158.81" font-size="9.2" textLength="5.78" lengthAdjust="spacingAndGlyphs">4</text>
<text x="19.95" y="130.59" font-size="9.2" textLength="5.78" lengthAdjust="spacingAndGlyphs">5</text>
<text x="19.97" y="102.37" font-size="9.2" textLength="5.78" lengthAdjust="spacingAndGlyphs">6</text>
<text x="20.05" y="74.14" font-size="9.2" textLength="5.78" lengthAdjust="spacingAndGlyphs">7</text>
<text x="19.97" y="45.92" font-size="9.2" textLength="5.78" lengthAdjust="spacingAndGlyphs">8</text>
<text x="20.00" y="17.70" font-size="9.2" textLength="5.78" lengthAdjust="spacingAndGlyphs">9</text>
<text x="26.60" y="281.00" font-size="9.2" textLength="5.78" lengthAdjust="spacingAndGlyphs">0</text>
<text x="110.77" y="281.00" font-size="9.2" textLength="14.45" lengthAdjust="spacingAndGlyphs">0.5</text>
<text x="203.47" y="281.00" font-size="9.2" textLength="5.78" lengthAdjust="spacingAndGlyphs">1</text>
<text x="125.37" y="51.35" font-size="10.04" textLength="38.27" lengthAdjust="spacingAndGlyphs" fill="#141414">using H</text>
<text x="125.37" y="38.85" font-size="10.04" textLength="26.99" lengthAdjust="spacingAndGlyphs">using</text>
<text x="156.38" y="33.95" font-size="7.74" textLength="4.68" lengthAdjust="spacingAndGlyphs" fill="#141414">3</text>
<text x="161.09" y="38.85" font-size="9.89" textLength="14.09" lengthAdjust="spacingAndGlyphs" fill="#141414">He</text>
<text stroke="none" x="113.20" y="10.35" font-size="13.77" textLength="9.68" lengthAdjust="spacingAndGlyphs" fill="#000" font-weight="bold">e</text>
<text transform="translate(11.25,203.00) rotate(-90)" x="-0.35" y="0" font-size="14.40" textLength="129.63" lengthAdjust="spacingAndGlyphs" fill="#141414">Temperature  [keV]</text>
<text x="109.51" y="298.14" font-size="11.14" textLength="7.17" lengthAdjust="spacingAndGlyphs" fill="#141414" font-style="italic">ρ</text>
<text x="116.13" y="304.85" font-size="10.98" textLength="29.42" lengthAdjust="spacingAndGlyphs" fill="#141414">norm</text>
<text x="272.22" y="273.50" font-size="9.2" textLength="5.78" lengthAdjust="spacingAndGlyphs">0</text>
<text x="272.35" y="230.82" font-size="9.2" textLength="5.78" lengthAdjust="spacingAndGlyphs">2</text>
<text x="272.12" y="188.13" font-size="9.2" textLength="5.78" lengthAdjust="spacingAndGlyphs">4</text>
<text x="272.27" y="145.45" font-size="9.2" textLength="5.78" lengthAdjust="spacingAndGlyphs">6</text>
<text x="272.27" y="102.77" font-size="9.2" textLength="5.78" lengthAdjust="spacingAndGlyphs">8</text>
<text x="266.45" y="60.08" font-size="9.2" textLength="11.56" lengthAdjust="spacingAndGlyphs">10</text>
<text x="266.58" y="17.40" font-size="9.2" textLength="11.56" lengthAdjust="spacingAndGlyphs">12</text>
<text x="278.90" y="283.00" font-size="9.2" textLength="5.78" lengthAdjust="spacingAndGlyphs">0</text>
<text x="361.92" y="283.00" font-size="9.2" textLength="14.45" lengthAdjust="spacingAndGlyphs">0.5</text>
<text x="453.47" y="283.00" font-size="9.2" textLength="5.78" lengthAdjust="spacingAndGlyphs">1</text>
<text x="384.36" y="49.95" font-size="10.04" textLength="38.38" lengthAdjust="spacingAndGlyphs" fill="#141414">using H</text>
<text x="384.36" y="37.45" font-size="10.04" textLength="27.06" lengthAdjust="spacingAndGlyphs">using</text>
<text x="415.48" y="32.55" font-size="7.74" textLength="4.68" lengthAdjust="spacingAndGlyphs" fill="#141414">3</text>
<text x="420.19" y="37.45" font-size="9.89" textLength="14.09" lengthAdjust="spacingAndGlyphs" fill="#141414">He</text>
<text stroke="none" x="363.20" y="9.85" font-size="13.82" textLength="11.79" lengthAdjust="spacingAndGlyphs" fill="#000" font-weight="bold">D</text>
<text transform="translate(259.15,204.20) rotate(-90)" x="-0.35" y="0" font-size="13.38" textLength="126.64" lengthAdjust="spacingAndGlyphs" fill="#141414">Temperature [keV]</text>
<text x="351.31" y="299.44" font-size="11.14" textLength="7.17" lengthAdjust="spacingAndGlyphs" fill="#141414" font-style="italic">ρ</text>
<text x="357.81" y="305.95" font-size="10.60" textLength="29.95" lengthAdjust="spacingAndGlyphs" fill="#141414">norm</text>
<text x="510.92" y="275.70" font-size="9.2" textLength="5.78" lengthAdjust="spacingAndGlyphs">0</text>
<text x="511.05" y="233.20" font-size="9.2" textLength="5.78" lengthAdjust="spacingAndGlyphs">2</text>
<text x="510.82" y="190.70" font-size="9.2" textLength="5.78" lengthAdjust="spacingAndGlyphs">4</text>
<text x="510.97" y="148.20" font-size="9.2" textLength="5.78" lengthAdjust="spacingAndGlyphs">6</text>
<text x="510.97" y="105.70" font-size="9.2" textLength="5.78" lengthAdjust="spacingAndGlyphs">8</text>
<text x="505.15" y="63.20" font-size="9.2" textLength="11.56" lengthAdjust="spacingAndGlyphs">10</text>
<text x="505.28" y="20.70" font-size="9.2" textLength="11.56" lengthAdjust="spacingAndGlyphs">12</text>
<text x="517.60" y="285.00" font-size="9.2" textLength="5.78" lengthAdjust="spacingAndGlyphs">0</text>
<text x="549.53" y="285.00" font-size="9.2" textLength="14.45" lengthAdjust="spacingAndGlyphs">0.2</text>
<text x="585.61" y="285.00" font-size="9.2" textLength="14.45" lengthAdjust="spacingAndGlyphs">0.4</text>
<text x="621.89" y="285.00" font-size="9.2" textLength="14.45" lengthAdjust="spacingAndGlyphs">0.6</text>
<text x="658.09" y="285.00" font-size="9.2" textLength="14.45" lengthAdjust="spacingAndGlyphs">0.8</text>
<text x="698.47" y="285.00" font-size="9.2" textLength="5.78" lengthAdjust="spacingAndGlyphs">1</text>
<text x="624.97" y="50.95" font-size="10.04" textLength="38.27" lengthAdjust="spacingAndGlyphs" fill="#141414">using H</text>
<text x="624.97" y="38.45" font-size="10.04" textLength="26.99" lengthAdjust="spacingAndGlyphs">using</text>
<text x="655.98" y="33.55" font-size="7.74" textLength="4.68" lengthAdjust="spacingAndGlyphs" fill="#141414">3</text>
<text x="660.69" y="38.45" font-size="9.89" textLength="14.09" lengthAdjust="spacingAndGlyphs" fill="#141414">He</text>
<text stroke="none" x="606.41" y="13.35" font-size="13.24" textLength="9.36" lengthAdjust="spacingAndGlyphs" fill="#000" font-weight="bold">T</text>
<text transform="translate(499.15,207.60) rotate(-90)" x="-0.35" y="0" font-size="13.53" textLength="125.43" lengthAdjust="spacingAndGlyphs" fill="#141414">Temperature [keV]</text>
<text x="593.50" y="301.84" font-size="11.14" textLength="6.86" lengthAdjust="spacingAndGlyphs" fill="#141414" font-style="italic">ρ</text>
<text x="599.82" y="308.05" font-size="10.23" textLength="29.63" lengthAdjust="spacingAndGlyphs" fill="#141414">norm</text>
</g></svg>
</body></html>
